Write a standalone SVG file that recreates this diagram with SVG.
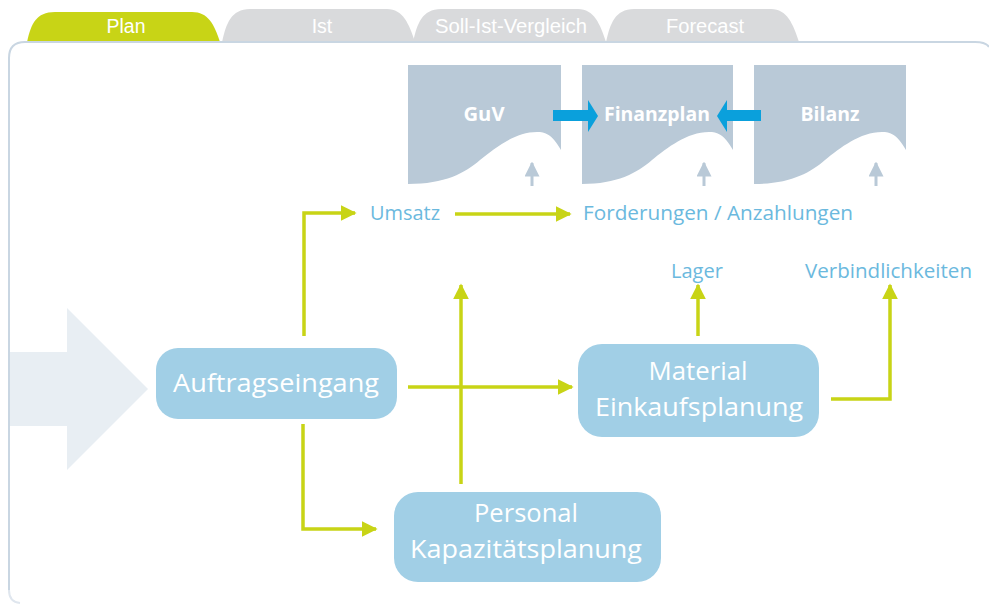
<svg xmlns="http://www.w3.org/2000/svg" width="989" height="604" viewBox="0 0 989 604">
<defs>
<style>
.tab-active{fill:#c8d416}
.tab{fill:#d9dadc}
.tabtxt{font-family:"Liberation Sans",Arial,sans-serif;font-size:19.5px;fill:#ffffff;text-anchor:middle}
.doc{fill:#b9c9d7}
.doctxt{font-family:"Open Sans","Noto Sans",sans-serif;font-weight:bold;font-size:19px;fill:#ffffff;text-anchor:middle}
.box{fill:#a1cfe6}
.boxtxt{font-family:"Open Sans","Noto Sans",sans-serif;font-size:25px;fill:#ffffff;text-anchor:middle}
.lbl{font-family:"Open Sans","Noto Sans",sans-serif;font-size:20px;fill:#6bb9de}
.conn{fill:none;stroke:#c8d416;stroke-width:3.5}
.up{fill:none;stroke:#b9c9d7;stroke-width:3}
</style>
<marker id="ah" viewBox="0 0 10 10" refX="9" refY="5" markerWidth="4.6" markerHeight="4.6" orient="auto" markerUnits="strokeWidth">
<path d="M0,0 L10,5 L0,10 Z" fill="#c8d416"/>
</marker>
<marker id="ahg" viewBox="0 0 10 10" refX="9" refY="5" markerWidth="5" markerHeight="5" orient="auto" markerUnits="strokeWidth">
<path d="M0,0 L10,5 L0,10 Z" fill="#b9c9d7"/>
</marker>
</defs>
<rect width="989" height="604" fill="#ffffff"/>

<!-- tabs -->
<g id="tab-plan">
<path class="tab-active" d="M27,42 C31,24 36,12 55,12 L192,12 C208,12 214,24 220,42 Z"/>
<text class="tabtxt" x="126" y="33" textLength="39" lengthAdjust="spacingAndGlyphs">Plan</text>
</g>
<g id="tab-ist">
<path class="tab" d="M222,42 C226,24 231,9 250,9 L387,9 C403,9 409,24 415,42 Z"/>
<text class="tabtxt" x="322" y="33">Ist</text>
</g>
<g id="tab-soll">
<path class="tab" d="M413,42 C417,24 422,9 441,9 L578,9 C594,9 600,24 606,42 Z"/>
<text class="tabtxt" x="511" y="33" textLength="152" lengthAdjust="spacingAndGlyphs">Soll-Ist-Vergleich</text>
</g>
<g id="tab-forecast">
<path class="tab" d="M606,42 C610,24 615,9 634,9 L771,9 C787,9 793,24 799,42 Z"/>
<text class="tabtxt" x="705" y="33" textLength="78" lengthAdjust="spacingAndGlyphs">Forecast</text>
</g>

<!-- panel -->
<g id="panel">
<path d="M9,590 L9,58 Q9,42 25,42 L975,42 Q986,42 989,47" fill="none" stroke="#c9d6e2" stroke-width="2"/>
<path d="M9,590 Q9,602 20,603" fill="none" stroke="#dfe6ee" stroke-width="2"/>
</g>

<!-- big background arrow -->
<g id="input-arrow">
<path d="M10,352 L67,352 L67,308 L148,389 L67,470 L67,426 L10,426 Z" fill="#e8eef3"/>
</g>

<!-- documents -->
<g id="doc-guv">
<path class="doc" d="M408,65 L561,65 L561,150 C552,134 545,132 537,132 C515,132 495,148 480,160 C465,173 445,184 408,184 Z"/>
<text class="doctxt" x="484" y="121" textLength="41" lengthAdjust="spacingAndGlyphs">GuV</text>
</g>
<g id="doc-finanzplan">
<path class="doc" d="M582,65 L733,65 L733,150 C724,134 717,132 709,132 C687,132 667,148 652,160 C637,173 617,184 582,184 Z"/>
<text class="doctxt" x="657" y="121" textLength="106" lengthAdjust="spacingAndGlyphs">Finanzplan</text>
</g>
<g id="doc-bilanz">
<path class="doc" d="M754,65 L906,65 L906,150 C897,134 890,132 882,132 C860,132 840,148 825,160 C810,173 790,184 754,184 Z"/>
<text class="doctxt" x="830" y="121" textLength="59" lengthAdjust="spacingAndGlyphs">Bilanz</text>
</g>

<!-- blue arrows -->
<g id="blue-arrows">
<path d="M553,110 L588,110 L588,100 L598,116 L588,132 L588,121 L553,121 Z" fill="#0aa0dc"/>
<path d="M761,110 L727,110 L727,100 L717,116 L727,132 L727,121 L761,121 Z" fill="#0aa0dc"/>
</g>

<!-- small gray up arrows -->
<g id="up-arrows">
<line class="up" x1="532" y1="186" x2="532" y2="163" marker-end="url(#ahg)"/>
<line class="up" x1="704" y1="186" x2="704" y2="163" marker-end="url(#ahg)"/>
<line class="up" x1="876" y1="186" x2="876" y2="163" marker-end="url(#ahg)"/>
</g>

<!-- labels -->
<g id="lbl-umsatz"><text class="lbl" x="370" y="220" textLength="70" lengthAdjust="spacingAndGlyphs">Umsatz</text></g>
<g id="lbl-forderungen"><text class="lbl" x="583" y="220" textLength="270" lengthAdjust="spacingAndGlyphs">Forderungen / Anzahlungen</text></g>
<g id="lbl-lager"><text class="lbl" x="671" y="278" textLength="52" lengthAdjust="spacingAndGlyphs">Lager</text></g>
<g id="lbl-verbindlichkeiten"><text class="lbl" x="805" y="278" textLength="167" lengthAdjust="spacingAndGlyphs">Verbindlichkeiten</text></g>

<!-- connectors -->
<g id="connectors">
<polyline class="conn" points="304,336 304,213 355,213" marker-end="url(#ah)"/>
<line class="conn" x1="455" y1="214" x2="570" y2="214" marker-end="url(#ah)"/>
<line class="conn" x1="461" y1="484" x2="461" y2="285" marker-end="url(#ah)"/>
<line class="conn" x1="408" y1="387" x2="572" y2="387" marker-end="url(#ah)"/>
<polyline class="conn" points="303,424 303,529 376,529" marker-end="url(#ah)"/>
<line class="conn" x1="698" y1="336" x2="698" y2="285" marker-end="url(#ah)"/>
<polyline class="conn" points="831,399 890,399 890,285" marker-end="url(#ah)"/>
</g>

<!-- process boxes -->
<g id="node-auftragseingang">
<rect class="box" x="156" y="348" width="241" height="71" rx="22"/>
<text class="boxtxt" x="276" y="392" textLength="206" lengthAdjust="spacingAndGlyphs">Auftragseingang</text>
</g>
<g id="node-material">
<rect class="box" x="578" y="344" width="241" height="93" rx="24"/>
<text class="boxtxt" x="698" y="380" textLength="99" lengthAdjust="spacingAndGlyphs">Material</text>
<text class="boxtxt" x="699" y="416" textLength="208" lengthAdjust="spacingAndGlyphs">Einkaufsplanung</text>
</g>
<g id="node-personal">
<rect class="box" x="394" y="492" width="267" height="90" rx="24"/>
<text class="boxtxt" x="526" y="522" textLength="104" lengthAdjust="spacingAndGlyphs">Personal</text>
<text class="boxtxt" x="526" y="558" textLength="232" lengthAdjust="spacingAndGlyphs">Kapazitätsplanung</text>
</g>
</svg>
